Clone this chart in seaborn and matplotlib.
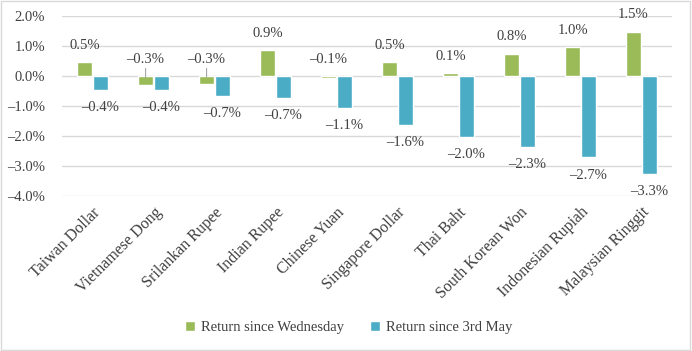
import matplotlib
matplotlib.use("Agg")
import matplotlib.pyplot as plt
import seaborn as sns
import pandas as pd
from matplotlib.patches import Rectangle

currencies = ["Taiwan Dollar", "Vietnamese Dong", "Srilankan Rupee", "Indian Rupee",
              "Chinese Yuan", "Singapore Dollar", "Thai Baht", "South Korean Won",
              "Indonesian Rupiah", "Malaysian Ringgit"]
ret_wed = [0.47, -0.30, -0.25, 0.87, -0.05, 0.46, 0.10, 0.75, 0.96, 1.48]
ret_may = [-0.45, -0.45, -0.65, -0.72, -1.05, -1.62, -2.02, -2.35, -2.70, -3.25]
lbl_wed = ["0.5%", "\u20130.3%", "\u20130.3%", "0.9%", "\u20130.1%", "0.5%", "0.1%",
           "0.8%", "1.0%", "1.5%"]
lbl_may = ["\u20130.4%", "\u20130.4%", "\u20130.7%", "\u20130.7%", "\u20131.1%", "\u20131.6%",
           "\u20132.0%", "\u20132.3%", "\u20132.7%", "\u20133.3%"]
series = ["Return since Wednesday", "Return since 3rd May"]
yticks = [2.0, 1.0, 0.0, -1.0, -2.0, -3.0, -4.0]

df = pd.DataFrame({
    "Currency": currencies * 2,
    "Return": ret_wed + ret_may,
    "Series": [series[0]] * len(currencies) + [series[1]] * len(currencies),
})

sns.set_theme(style="white")
plt.rcParams["font.family"] = ["Liberation Serif", "DejaVu Serif"]

fig = plt.figure(figsize=(6.92, 3.51), dpi=100)
ax = fig.add_axes([62 / 692, 1 - 196 / 351, 610 / 692, 180 / 351])

palette = {series[0]: "#9BBB59", series[1]: "#4BACC6"}
sns.barplot(data=df, x="Currency", y="Return", hue="Series", palette=palette,
            saturation=1, width=0.52, gap=0.1, ax=ax, legend=True, zorder=3)

txt = "#404040"
ax.set_ylim(-4.0, 2.0)
ax.set_xlim(-0.5, len(currencies) - 0.5)
ax.set_yticks(yticks)
ax.set_yticklabels([f"{v:.1f}%".replace("-", "\u2013") for v in yticks],
                   fontsize=10.5, color=txt)
for v in yticks:
    ax.axhline(v, color="#D9D9D9", lw=1, zorder=1)
for s in ax.spines.values():
    s.set_visible(False)
ax.tick_params(axis="y", length=0, pad=12)
ax.tick_params(axis="x", length=0, pad=6)
ax.set_xlabel("")
ax.set_ylabel("")
ax.set_xticks(range(len(currencies)))
ax.set_xticklabels(currencies, rotation=45, ha="right", rotation_mode="anchor",
                   fontsize=11.5, color=txt)
for t in ax.get_xticklabels():
    t.set_x(t.get_position()[0])

# data labels
bw = 0.26
for i, (w, m) in enumerate(zip(ret_wed, ret_may)):
    xw = i - bw / 2
    xm = i + bw / 2
    ax.annotate(lbl_wed[i], (xw, max(w, 0)), xytext=(0, 12), textcoords="offset points",
                ha="center", va="center", fontsize=10.5, color=txt)
    ax.annotate(lbl_may[i], (xm, m), xytext=(0, -13), textcoords="offset points",
                ha="center", va="center", fontsize=10.5, color=txt)
    if w < 0 and i in (1, 2):
        ax.annotate("", (xw, w / 2), xytext=(xw, 0.35),
                    arrowprops=dict(arrowstyle="-", color="#A6A6A6", lw=0.8))

leg = ax.legend(loc="upper center", bbox_to_anchor=(0.47, -0.62), ncol=2, frameon=False,
                fontsize=10.5, handlelength=0.7, handleheight=0.7, columnspacing=1.8,
                handletextpad=0.4)
for t in leg.get_texts():
    t.set_color(txt)

fig.patches.append(Rectangle((0.002, 0.003), 0.995, 0.993, transform=fig.transFigure,
                             fill=False, edgecolor="#D9D9D9", lw=1))

fig.savefig("out.png", dpi=100)
